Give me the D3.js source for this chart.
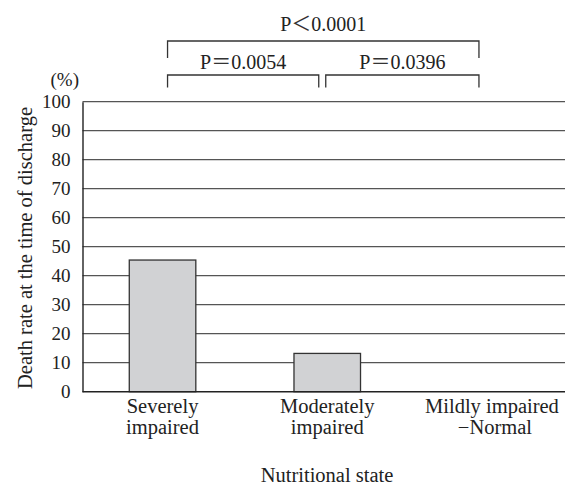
<!DOCTYPE html>
<html>
<head>
<meta charset="utf-8">
<script src="https://cdn.jsdelivr.net/npm/d3@7/dist/d3.min.js"></script>
</head>
<body style="margin:0">
<svg id="chart" width="565" height="487"></svg>
<script>
// ---- data ----
const categories = ["Severely impaired", "Moderately impaired", "Mildly impaired −Normal"];
const categoryLines = [["Severely", "impaired"], ["Moderately", "impaired"], ["Mildly impaired", "−Normal"]];
const deathRate = [45.4, 13.2, 0];
const yTicks = [0, 10, 20, 30, 40, 50, 60, 70, 80, 90, 100];
const comparisons = [
  { label: ["P", "＜", "0.0001"], from: 0, to: 2, level: 1 },
  { label: ["P", "＝", "0.0054"], from: 0, to: 1, level: 0 },
  { label: ["P", "＝", "0.0396"], from: 1, to: 2, level: 0 }
];
const yTitle = "Death rate at the time of discharge";
const xTitle = "Nutritional state";
const yUnit = "(%)";

// ---- layout ----
const FONT = "'Liberation Serif'";
const CJK = "'Noto Sans CJK JP'";
const svg = d3.select("#chart");
const mLeft = 82.5, mRight = 572, mTop = 101.7, mBottom = 391.7, gridRight = 565;

const x = d3.scaleBand().domain(categories).range([mLeft, mRight])
  .paddingInner(0.596).paddingOuter(0.284);
const y = d3.scaleLinear().domain([0, 100]).range([mBottom, mTop]);

// gridlines
svg.append("g").selectAll("line").data(yTicks.filter(d => d > 0)).join("line")
  .attr("x1", mLeft).attr("x2", gridRight)
  .attr("y1", d => y(d)).attr("y2", d => y(d))
  .attr("stroke", "#555").attr("stroke-width", 1.3);

// bars
svg.append("g").selectAll("rect").data(categories.map((c, i) => ({ c, v: deathRate[i] })).filter(d => d.v > 0)).join("rect")
  .attr("x", d => x(d.c)).attr("width", x.bandwidth())
  .attr("y", d => y(d.v)).attr("height", d => y(0) - y(d.v))
  .attr("fill", "#d1d2d4").attr("stroke", "#333").attr("stroke-width", 1.3);

// y axis
const yAxis = d3.axisLeft(y).tickValues(yTicks).tickSize(0).tickPadding(12);
const gy = svg.append("g").attr("transform", `translate(${mLeft},0)`).call(yAxis)
  .attr("font-family", null).attr("font-size", null);
gy.select(".domain").attr("stroke", "#222").attr("stroke-width", 1.4);
gy.selectAll("text").attr("fill", "#222").attr("font-size", 19)
  .style("font-family", FONT);

// x axis baseline
svg.append("line").attr("x1", mLeft).attr("x2", gridRight)
  .attr("y1", y(0)).attr("y2", y(0)).attr("stroke", "#222").attr("stroke-width", 1.6);

const addText = (size) => svg.append("text").style("font-family", FONT)
  .attr("font-size", size).attr("fill", "#222");

// category labels
const bandCenter = i => x(categories[i]) + x.bandwidth() / 2;
categories.forEach((c, i) => {
  const c0 = bandCenter(i);
  const t = addText(20.5).attr("text-anchor", "middle").attr("x", c0).attr("y", 412.5);
  categoryLines[i].forEach((ln, j) => {
    t.append("tspan").attr("x", c0 + (j === 1 && i === 2 ? 3 : 0)).attr("dy", j === 0 ? 0 : 21.5).text(ln);
  });
});

// titles
addText(20.5).attr("text-anchor", "middle")
  .attr("transform", `translate(32,248) rotate(-90)`).text(yTitle);
addText(20.5).attr("text-anchor", "middle").attr("x", 327).attr("y", 482).text(xTitle);
addText(19).attr("text-anchor", "end").attr("x", 79).attr("y", 86).text(yUnit);

// significance brackets
const levelY = [75, 41], tickLen = [12.5, 17], textY = [69, 31];
comparisons.forEach(cmp => {
  let x1 = bandCenter(cmp.from) + 5, x2 = bandCenter(cmp.to) - 13;
  if (cmp.level === 0 && cmp.to === 1) x2 = bandCenter(cmp.to) - 8.5;
  if (cmp.level === 0 && cmp.from === 1) x1 = bandCenter(cmp.from) - 1.5;
  const ly = levelY[cmp.level], tl = tickLen[cmp.level];
  svg.append("path")
    .attr("d", `M${x1},${ly + tl}V${ly}H${x2}V${ly + tl}`)
    .attr("fill", "none").attr("stroke", "#333").attr("stroke-width", 1.3);
  const t = addText(20).attr("text-anchor", "middle")
    .attr("x", (x1 + x2) / 2).attr("y", textY[cmp.level]);
  cmp.label.forEach((part, k) => {
    const sp = t.append("tspan").text(part);
    if (k === 1) sp.style("font-family", CJK).attr("fill", "#333");
  });
});
</script>
</body>
</html>
